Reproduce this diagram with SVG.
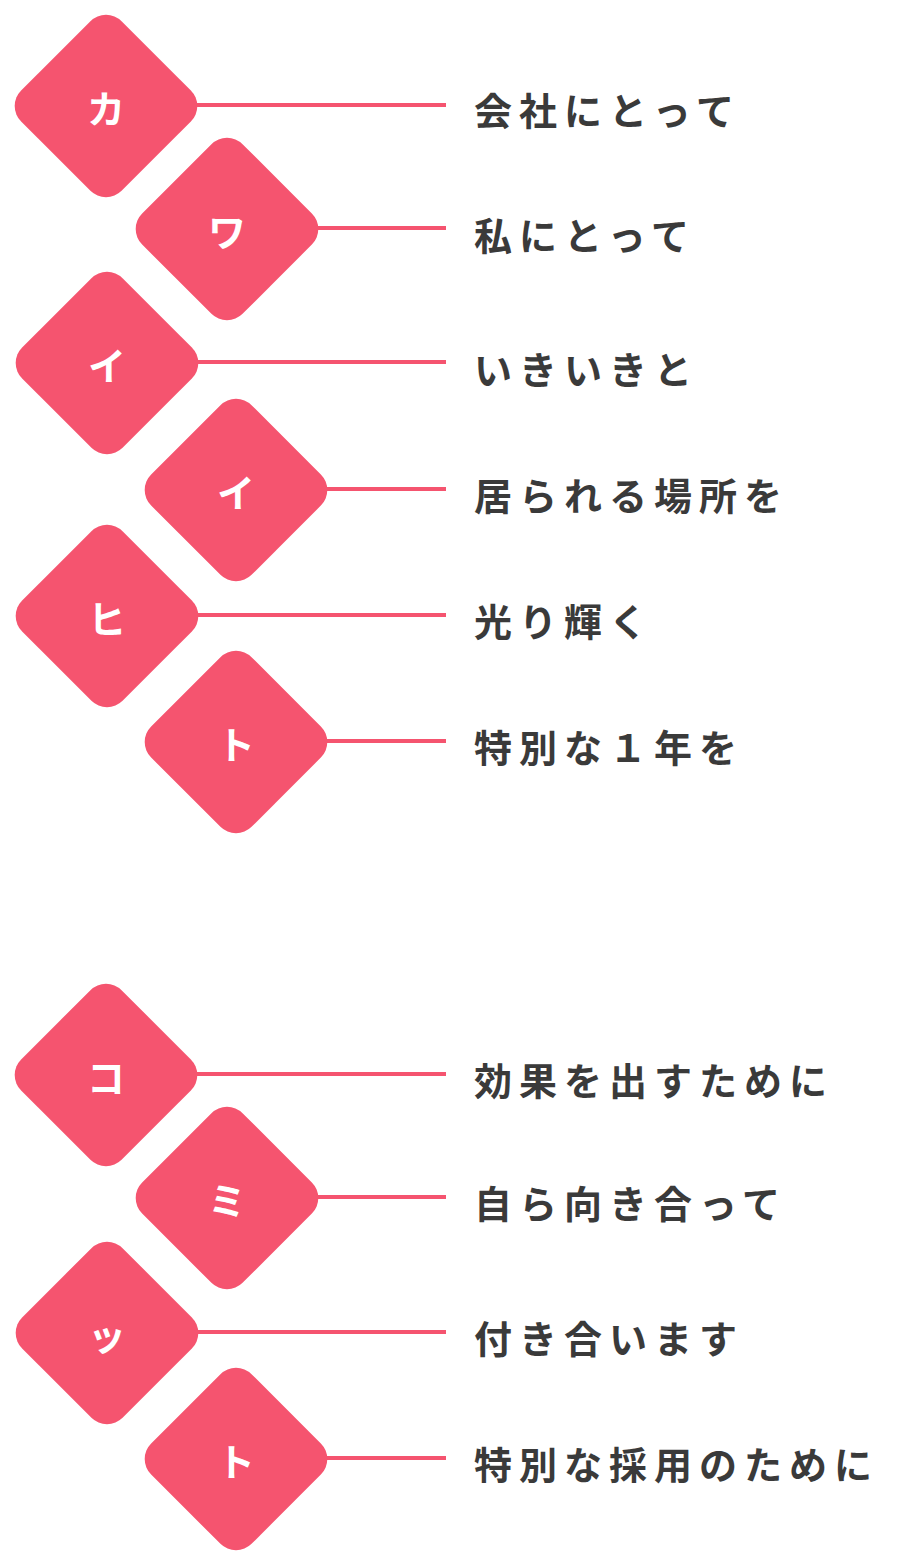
<svg xmlns="http://www.w3.org/2000/svg" width="903" height="1566" viewBox="0 0 903 1566">
<style>
.d{fill:#f5546f}
.l{stroke:#f5546f;stroke-width:4}
.k{font-family:"Noto Sans CJK JP",sans-serif;font-weight:bold;font-size:38px;fill:#fff;text-anchor:middle;dominant-baseline:central}
.t{font-family:"Noto Sans CJK JP",sans-serif;font-weight:bold;font-size:38px;fill:#3a3a3a;letter-spacing:7px;dominant-baseline:central}
</style>
<defs><rect id="r" x="-71" y="-71" width="142" height="142" rx="22" transform="rotate(45)"/></defs>
<g id="connectors">
<line class="l" x1="190" y1="105" x2="446" y2="105"/>
<line class="l" x1="310" y1="228" x2="446" y2="228"/>
<line class="l" x1="190" y1="362" x2="446" y2="362"/>
<line class="l" x1="320" y1="489" x2="446" y2="489"/>
<line class="l" x1="190" y1="615" x2="446" y2="615"/>
<line class="l" x1="320" y1="741" x2="446" y2="741"/>
<line class="l" x1="190" y1="1074" x2="446" y2="1074"/>
<line class="l" x1="310" y1="1197" x2="446" y2="1197"/>
<line class="l" x1="190" y1="1332" x2="446" y2="1332"/>
<line class="l" x1="320" y1="1458" x2="446" y2="1458"/>
</g>
<g id="n1" transform="translate(106,106)"><use href="#r" class="d"/><text class="k">カ</text></g>
<g id="n2" transform="translate(227,229)"><use href="#r" class="d"/><text class="k">ワ</text></g>
<g id="n3" transform="translate(107,363)"><use href="#r" class="d"/><text class="k">イ</text></g>
<g id="n4" transform="translate(236,490)"><use href="#r" class="d"/><text class="k">イ</text></g>
<g id="n5" transform="translate(107,616)"><use href="#r" class="d"/><text class="k">ヒ</text></g>
<g id="n6" transform="translate(236,742)"><use href="#r" class="d"/><text class="k">ト</text></g>
<g id="n7" transform="translate(106,1075)"><use href="#r" class="d"/><text class="k">コ</text></g>
<g id="n8" transform="translate(227,1198)"><use href="#r" class="d"/><text class="k">ミ</text></g>
<g id="n9" transform="translate(107,1333)"><use href="#r" class="d"/><text class="k">ッ</text></g>
<g id="n10" transform="translate(236,1459)"><use href="#r" class="d"/><text class="k">ト</text></g>
<g id="labels">
<text class="t" x="474" y="108">会社にとって</text>
<text class="t" x="474" y="233">私にとって</text>
<text class="t" x="474" y="367">いきいきと</text>
<text class="t" x="474" y="493">居られる場所を</text>
<text class="t" x="474" y="619">光り輝く</text>
<text class="t" x="474" y="745">特別な１年を</text>
<text class="t" x="474" y="1078">効果を出すために</text>
<text class="t" x="474" y="1201">自ら向き合って</text>
<text class="t" x="474" y="1336">付き合います</text>
<text class="t" x="474" y="1462">特別な採用のために</text>
</g>
</svg>
